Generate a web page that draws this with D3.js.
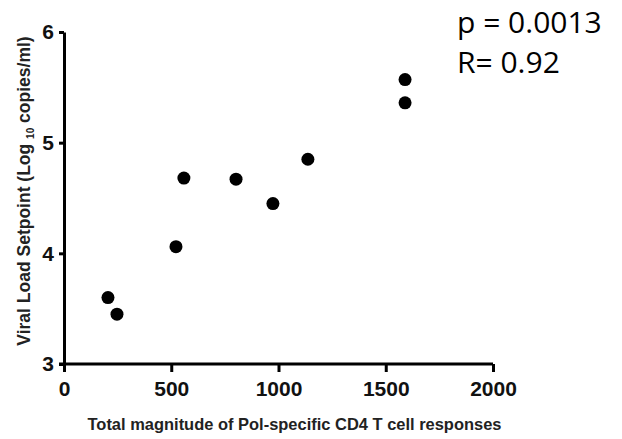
<!DOCTYPE html>
<html>
<head>
<meta charset="utf-8">
<script src="https://cdn.jsdelivr.net/npm/d3@7"></script>
<style>
  body { margin: 0; background: #fff; }
  svg { display: block; }
</style>
</head>
<body>
<div class="canvas"></div>
<script>
// responses (x) and setpoint (y)
const magnitude = [205, 247, 522, 559, 802, 974, 1137, 1590, 1590];
const setpoint = [3.6, 3.45, 4.06, 4.68, 4.67, 4.45, 4.85, 5.36, 5.57];
const xTicks = [0, 500, 1000, 1500, 2000];
const yTicks = [3, 4, 5, 6];
const stats = ["p = 0.0013", "R= 0.92"];

const width = 622, height = 439;
const svg = d3.select(".canvas").append("svg")
  .attr("width", width).attr("height", height);

const xScale = d3.scaleLinear().domain([0, 2000]).range([64, 493]);
const yScale = d3.scaleLinear().domain([3, 6]).range([364, 32]);

const xAxis = svg.append("g")
  .attr("transform", `translate(0,${yScale(3)})`)
  .call(d3.axisBottom(xScale).tickValues(xTicks).tickSize(8).tickSizeOuter(0).tickPadding(9).tickFormat(d3.format("d")));

const yAxis = svg.append("g")
  .attr("transform", `translate(${xScale(0)},0)`)
  .call(d3.axisLeft(yScale).tickValues(yTicks).tickSize(5).tickSizeOuter(0).tickPadding(5).tickFormat(d3.format("d")));

[xAxis, yAxis].forEach((ax) => {
  ax.select(".domain").attr("stroke", "#000").attr("stroke-width", 3);
  ax.selectAll(".tick line").attr("stroke", "#000").attr("stroke-width", 3);
  ax.selectAll(".tick text")
    .attr("fill", "#111")
    .style("font-family", "Liberation Sans, Arial, sans-serif")
    .style("font-weight", "bold")
    .style("font-size", "21px");
});
// extend x axis line to the left edge of the 3 tick
xAxis.select(".domain").attr("d", `M${xScale(0) - 5},0H${xScale(2000)}`);

// points
svg.selectAll("circle")
  .data(magnitude.map((m, i) => ({ x: m, y: setpoint[i] })))
  .join("circle")
  .attr("cx", (d) => xScale(d.x))
  .attr("cy", (d) => yScale(d.y))
  .attr("r", 6.5)
  .attr("fill", "#000");

// axis titles
svg.append("text")
  .attr("x", (xScale(0) + xScale(2000)) / 2 + 16)
  .attr("y", 430)
  .attr("text-anchor", "middle")
  .attr("textLength", 414)
  .attr("lengthAdjust", "spacingAndGlyphs")
  .style("font-family", "Liberation Sans, Arial, sans-serif")
  .style("font-weight", "bold")
  .style("font-size", "17px")
  .attr("fill", "#222")
  .text("Total magnitude of Pol-specific CD4 T cell responses");

const yTitle = svg.append("text")
  .attr("transform", "translate(30,191) rotate(-90)")
  .attr("text-anchor", "middle")
  .style("font-family", "Liberation Sans, Arial, sans-serif")
  .style("font-weight", "bold")
  .style("font-size", "17.5px")
  .attr("fill", "#222");
yTitle.append("tspan").text("Viral Load Setpoint (Log ");
yTitle.append("tspan").attr("dy", 4).style("font-size", "10px").text("10");
yTitle.append("tspan").attr("dy", -4).text(" copies/ml)");

// stats annotation
svg.selectAll(".stat")
  .data(stats)
  .join("text")
  .attr("class", "stat")
  .attr("x", 457)
  .attr("y", (d, i) => 33 + i * 40)
  .style("font-family", "Open Sans, sans-serif")
  .style("font-size", "30px")
  .attr("fill", "#000")
  .text((d) => d);
</script>
</body>
</html>
